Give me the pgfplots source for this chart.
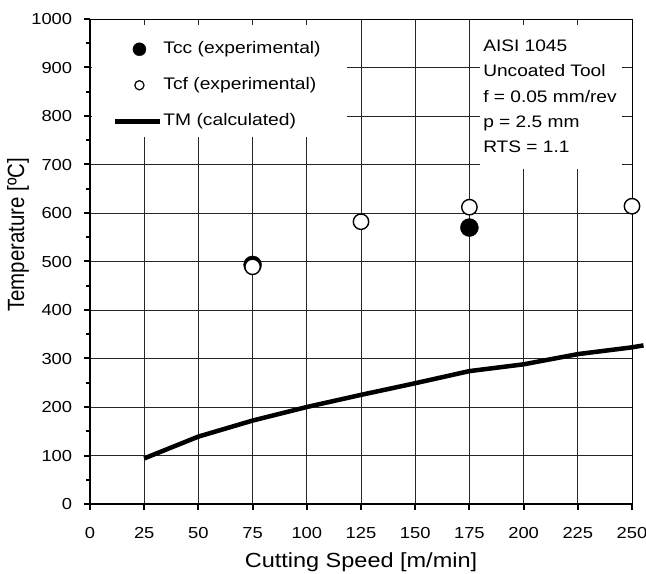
\documentclass[border=0pt]{standalone}
\usepackage{fontspec}
\setmainfont[FakeStretch=1.15]{Liberation Sans}
\newfontfamily\yfont{Liberation Sans}
\usepackage{pgfplots}
\pgfplotsset{compat=1.18}
\pgfplotsset{
  tccleg/.style={legend image code/.code={\path[draw=none] (0bp,0bp) -- (48bp,0bp);
    \draw[##1, only marks, mark size=6.5bp] plot coordinates {(24bp,0bp)};}},
  tcfleg/.style={legend image code/.code={\path[draw=none] (0bp,0bp) -- (48bp,0bp);
    \draw[##1, only marks, mark size=4.6bp, mark options={line width=1.2bp, fill=white, draw=black}] plot coordinates {(24bp,0bp)};}},
  tmleg/.style={legend image code/.code={\path[draw=none] (0bp,0bp) -- (47bp,0bp);
    \draw[##1] (0bp,0bp) -- (45bp,0bp);}},
}
\begin{document}
\begin{tikzpicture}
\begin{axis}[
  width=542bp, height=485bp, scale only axis,
  xmin=0, xmax=250, ymin=0, ymax=1000,
  xtick={0,25,...,250}, ytick={0,100,...,1000},
  minor ytick={50,150,...,950},
  grid=major,
  major grid style={line width=0.8bp, black!85},
  axis line style={line width=0.9bp},
  tick align=outside, xtick pos=bottom, ytick pos=left,
  major tick length=6bp, minor tick length=4bp,
  every tick/.style={black, line width=2bp},
  /pgf/number format/assume math mode=true,
  /pgf/number format/1000 sep={},
  ticklabel style={font=\fontsize{16}{19}\selectfont},
  xticklabel style={inner sep=0pt, text height=11.5bp, text depth=0pt, anchor=north, yshift=-17bp},
  yticklabel style={inner sep=0pt, text height=11.5bp, text depth=0pt, anchor=east, xshift=-11.7bp},
  xlabel={Cutting Speed [m/min]},
  xlabel style={font=\fontsize{20.5}{24}\selectfont, at={(axis description cs:0.5,-0.121)}, anchor=center},
  ylabel={\yfont Temperature [ºC]},
  ylabel style={font=\fontsize{20.5}{24}\selectfont, at={(axis description cs:-0.1328,0.555)}, anchor=center, yscale=1.15},
  clip=false,
  legend cell align=left,
  legend style={draw=none, fill=none, at={(axis cs:10.6,954)}, anchor=north west, inner sep=0pt,
    row sep=20.5bp,
    nodes={inner sep=0pt, text height=12bp, text depth=3.5bp, font=\fontsize{16.8}{20}\selectfont}},
]
\addplot[only marks, mark=*, mark size=9bp, black, tccleg]
  coordinates {(75,493) (175,570)};
\addlegendentry{Tcc (experimental)}
\addplot[only marks, mark=*, mark size=7.7bp, mark options={fill=white, draw=black, line width=1.4bp}, tcfleg]
  coordinates {(75,489) (125,582) (175,612) (250,614)};
\addlegendentry{Tcf (experimental)}
\addplot[line width=4.5bp, black, line join=round, tmleg]
  coordinates {(25,94) (50,139) (75,172) (100,200) (125,225) (150,249) (175,274) (200,288) (225,309) (250,323) (255.3,327)};
\addlegendentry{TM (calculated)}
\fill[white] (axis cs:1,987.6) rectangle (axis cs:118.5,757);
\fill[white] (axis cs:180,987.6) rectangle (axis cs:245.4,690);
\draw[line width=2.8bp] (rel axis cs:0,1) -- (rel axis cs:0,0) -- (rel axis cs:1,0);
\begin{scope}[every node/.style={anchor=base west, inner sep=0pt, font=\fontsize{16.7}{20}\selectfont}]
\node at (axis cs:181.3,934) {AISI 1045};
\node at (axis cs:181.3,881) {Uncoated Tool};
\node at (axis cs:181.3,827.4) {f = 0.05 mm/rev};
\node at (axis cs:181.3,775.9) {p = 2.5 mm};
\node at (axis cs:181.3,724.3) {RTS = 1.1};
\end{scope}
\end{axis}
\pgfresetboundingbox
\path[use as bounding box] ([shift={(-90bp,-70bp)}]current axis.south west) rectangle ([shift={(14bp,19bp)}]current axis.north east);
\end{tikzpicture}
\end{document}
